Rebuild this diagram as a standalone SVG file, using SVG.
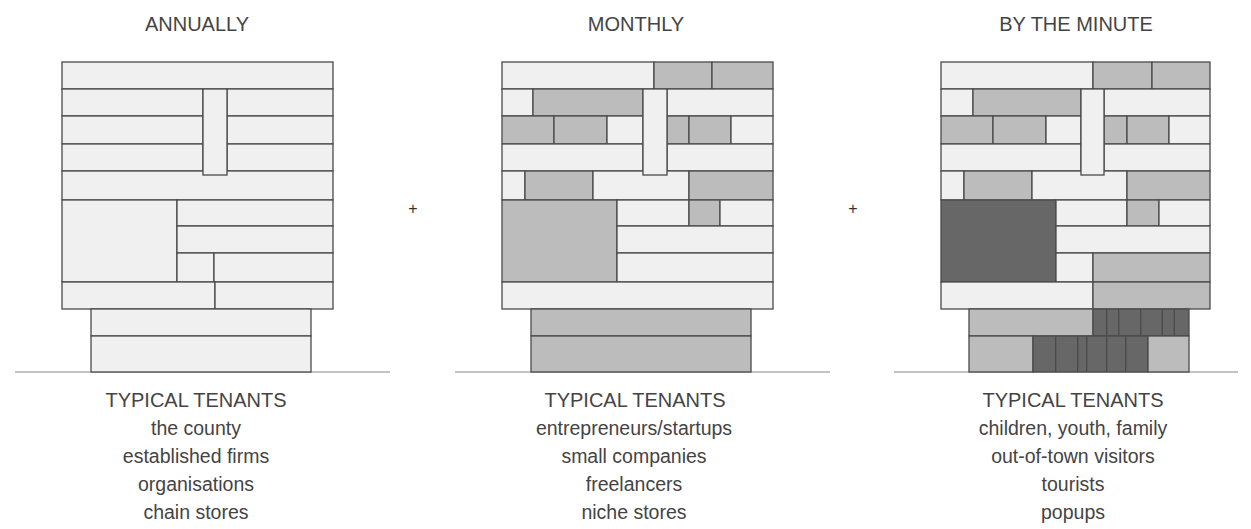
<svg xmlns="http://www.w3.org/2000/svg" width="1251" height="529" viewBox="0 0 1251 529">
<style>
rect{stroke:#4a4a4a;stroke-width:1.3}
.l{fill:#f0f0f0}
.m{fill:#bdbcbd}
.d{fill:#676767}
.dv{stroke:#4a4a4a;stroke-width:1.3}
.gl{stroke:#c4c4c4;stroke-width:2}
text{font-family:"Liberation Sans",Arial,sans-serif;fill:#444444;text-anchor:middle}
.t{font-size:20px}
.s{font-size:19.5px}
.p{font-size:16px;fill:#333333}
</style>
<rect width="1251" height="529" fill="#ffffff" style="stroke:none"/>
<g id="ground">
<line class="gl" x1="15" y1="372" x2="390" y2="372"/>
<line class="gl" x1="455" y1="372" x2="830" y2="372"/>
<line class="gl" x1="894" y1="372" x2="1238" y2="372"/>
</g>

<g id="building-annually" transform="translate(62,0)">
<rect class="l" x="0" y="62" width="271" height="27"/>
<rect class="l" x="0" y="89" width="141" height="27"/>
<rect class="l" x="165" y="89" width="106" height="27"/>
<rect class="l" x="0" y="116" width="141" height="28"/>
<rect class="l" x="165" y="116" width="106" height="28"/>
<rect class="l" x="0" y="144" width="141" height="27"/>
<rect class="l" x="165" y="144" width="106" height="27"/>
<rect class="l" x="0" y="171" width="271" height="29"/>
<rect class="l" x="141" y="89" width="24" height="86"/>
<rect class="l" x="0" y="200" width="115" height="82"/>
<rect class="l" x="115" y="200" width="156" height="26"/>
<rect class="l" x="115" y="226" width="156" height="27"/>
<rect class="l" x="115" y="253" width="37" height="29"/>
<rect class="l" x="152" y="253" width="119" height="29"/>
<rect class="l" x="0" y="282" width="153" height="27"/>
<rect class="l" x="153" y="282" width="118" height="27"/>
<rect class="l" x="29" y="309" width="220" height="27"/>
<rect class="l" x="29" y="336" width="220" height="36"/>
</g>

<g id="building-monthly" transform="translate(502,0)">
<rect class="l" x="0" y="62" width="152" height="27"/>
<rect class="m" x="152" y="62" width="58" height="27"/>
<rect class="m" x="210" y="62" width="61" height="27"/>
<rect class="l" x="0" y="89" width="31" height="27"/>
<rect class="m" x="31" y="89" width="110" height="27"/>
<rect class="l" x="165" y="89" width="106" height="27"/>
<rect class="m" x="0" y="116" width="52" height="28"/>
<rect class="m" x="52" y="116" width="53" height="28"/>
<rect class="l" x="105" y="116" width="36" height="28"/>
<rect class="m" x="165" y="116" width="22" height="28"/>
<rect class="m" x="187" y="116" width="42" height="28"/>
<rect class="l" x="229" y="116" width="42" height="28"/>
<rect class="l" x="0" y="144" width="141" height="27"/>
<rect class="l" x="165" y="144" width="106" height="27"/>
<rect class="l" x="0" y="171" width="23" height="29"/>
<rect class="m" x="23" y="171" width="68" height="29"/>
<rect class="l" x="91" y="171" width="96" height="29"/>
<rect class="m" x="187" y="171" width="84" height="29"/>
<rect class="l" x="141" y="89" width="24" height="86"/>
<rect class="m" x="0" y="200" width="115" height="82"/>
<rect class="l" x="115" y="200" width="72" height="26"/>
<rect class="m" x="187" y="200" width="31" height="26"/>
<rect class="l" x="218" y="200" width="53" height="26"/>
<rect class="l" x="115" y="226" width="156" height="27"/>
<rect class="l" x="115" y="253" width="156" height="29"/>
<rect class="l" x="0" y="282" width="271" height="27"/>
<rect class="m" x="29" y="309" width="220" height="27"/>
<rect class="m" x="29" y="336" width="220" height="36"/>
</g>

<g id="building-by-the-minute" transform="translate(941,0)">
<rect class="l" x="0" y="62" width="152" height="27"/>
<rect class="m" x="152" y="62" width="59" height="27"/>
<rect class="m" x="211" y="62" width="58" height="27"/>
<rect class="l" x="0" y="89" width="32" height="27"/>
<rect class="m" x="32" y="89" width="108" height="27"/>
<rect class="l" x="163" y="89" width="106" height="27"/>
<rect class="m" x="0" y="116" width="52" height="28"/>
<rect class="m" x="52" y="116" width="53" height="28"/>
<rect class="l" x="105" y="116" width="35" height="28"/>
<rect class="m" x="163" y="116" width="23" height="28"/>
<rect class="m" x="186" y="116" width="42" height="28"/>
<rect class="l" x="228" y="116" width="41" height="28"/>
<rect class="l" x="0" y="144" width="140" height="27"/>
<rect class="l" x="163" y="144" width="106" height="27"/>
<rect class="l" x="0" y="171" width="23" height="29"/>
<rect class="m" x="23" y="171" width="68" height="29"/>
<rect class="l" x="91" y="171" width="95" height="29"/>
<rect class="m" x="186" y="171" width="83" height="29"/>
<rect class="l" x="140" y="89" width="23" height="86"/>
<rect class="d" x="0" y="200" width="115" height="82"/>
<rect class="l" x="115" y="200" width="71" height="26"/>
<rect class="m" x="186" y="200" width="32" height="26"/>
<rect class="l" x="218" y="200" width="51" height="26"/>
<rect class="l" x="115" y="226" width="154" height="27"/>
<rect class="l" x="115" y="253" width="37" height="29"/>
<rect class="m" x="152" y="253" width="117" height="29"/>
<rect class="l" x="0" y="282" width="152" height="27"/>
<rect class="m" x="152" y="282" width="117" height="27"/>
<rect class="m" x="28" y="309" width="124" height="27"/>
<rect class="d" x="152" y="309" width="96" height="27"/>
<path class="dv" d="M165.7,309V336M177.7,309V336M199.7,309V336M221.3,309V336M233.3,309V336"/>
<rect class="m" x="28" y="336" width="64" height="36"/>
<rect class="d" x="92" y="336" width="115" height="36"/>
<path class="dv" d="M114.7,336V372M136.7,336V372M145.7,336V372M165.7,336V372M184.7,336V372"/>
<rect class="m" x="207" y="336" width="41" height="36"/>
</g>

<g id="labels-annually">
<text class="t" x="197" y="31">ANNUALLY</text>
<text class="t" x="196" y="407">TYPICAL TENANTS</text>
<text class="s" x="196" y="435">the county</text>
<text class="s" x="196" y="463">established firms</text>
<text class="s" x="196" y="491">organisations</text>
<text class="s" x="196" y="519">chain stores</text>
</g>
<g id="labels-monthly">
<text class="t" x="636" y="31">MONTHLY</text>
<text class="t" x="635" y="407">TYPICAL TENANTS</text>
<text class="s" x="634" y="435">entrepreneurs/startups</text>
<text class="s" x="634" y="463">small companies</text>
<text class="s" x="634" y="491">freelancers</text>
<text class="s" x="634" y="519">niche stores</text>
</g>
<g id="labels-by-the-minute">
<text class="t" x="1076" y="31">BY THE MINUTE</text>
<text class="t" x="1073" y="407">TYPICAL TENANTS</text>
<text class="s" x="1073" y="435">children, youth, family</text>
<text class="s" x="1073" y="463">out-of-town visitors</text>
<text class="s" x="1073" y="491">tourists</text>
<text class="s" x="1073" y="519">popups</text>
</g>
<g id="operators">
<text class="p" x="413" y="214">+</text>
<text class="p" x="853" y="214">+</text>
</g>
</svg>
